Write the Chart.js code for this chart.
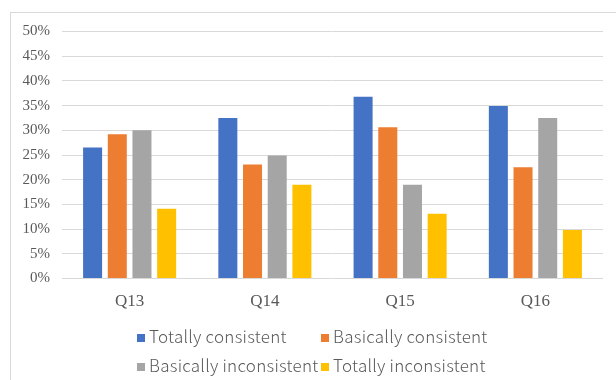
<!DOCTYPE html>
<html>
<head>
<meta charset="utf-8">
<script src="https://cdn.jsdelivr.net/npm/chart.js@4"></script>
<style>
  html, body { margin: 0; padding: 0; background: #fff; }
  body { width: 616px; height: 380px; position: relative; overflow: hidden; }
  #frame { position: absolute; left: 10px; top: 12px; width: 620px; height: 380px;
           border-left: 1px solid #d9d9d9; border-top: 1px solid #d9d9d9; box-sizing: border-box; }
  #wrap { position: absolute; left: 0; top: 0; width: 616px; height: 380px; }
  .leg { position: absolute; font-family: "Noto Sans CJK SC", "Noto Sans", sans-serif; font-size: 17px;
         font-weight: 300; color: #595959; white-space: nowrap; line-height: 20px; letter-spacing: 0.25px; }
  .leg .sw { position: absolute; width: 8px; height: 8px; left: 0; top: 8px; }
  .leg .tx { position: absolute; left: 12px; top: 0; }
</style>
</head>
<body>
<div id="frame"></div>
<div id="wrap"><canvas id="c" width="616" height="380"></canvas></div>
<div id="legend"></div>
<script>
const categories = ["Q13", "Q14", "Q15", "Q16"];
const seriesNames = ["Totally consistent", "Basically consistent", "Basically inconsistent", "Totally inconsistent"];
const totallyConsistent = [26.5, 32.5, 36.8, 34.9];
const basicallyConsistent = [29.2, 23.1, 30.6, 22.5];
const basicallyInconsistent = [30.0, 24.9, 19.0, 32.5];
const totallyInconsistent = [14.1, 19.0, 13.1, 9.8];
const yTickValues = [0, 5, 10, 15, 20, 25, 30, 35, 40, 45, 50];
const colors = ["#4472C4", "#ED7D31", "#A5A5A5", "#FFC000"];

const seriesValues = [totallyConsistent, basicallyConsistent, basicallyInconsistent, totallyInconsistent];

new Chart(document.getElementById("c"), {
  type: "bar",
  data: {
    labels: categories,
    datasets: seriesValues.map((vals, i) => ({
      label: seriesNames[i],
      data: vals,
      backgroundColor: colors[i],
      borderWidth: 0,
      categoryPercentage: 0.73,
      barPercentage: 0.77
    }))
  },
  options: {
    responsive: false,
    animation: false,
    devicePixelRatio: 1,
    layout: { padding: { left: 0, right: 13, top: 31.5, bottom: 0 } },
    plugins: { legend: { display: false }, tooltip: { enabled: false } },
    scales: {
      x: {
        grid: { display: false, drawTicks: false },
        border: { display: false },
        ticks: { color: "#595959", font: { family: "Liberation Serif", size: 17 }, padding: 13 },
        afterFit: (s) => { s.height = 101.5; }
      },
      y: {
        min: 0, max: 50,
        afterBuildTicks: (s) => { s.ticks = yTickValues.map(v => ({ value: v })); },
        grid: { color: "#d9d9d9", lineWidth: 1, drawTicks: false },
        border: { display: false },
        ticks: { color: "#595959", font: { family: "Liberation Serif", size: 15 }, padding: 12,
                 callback: (v) => v + "%" },
        afterFit: (s) => { s.width = 62; }
      }
    }
  }
});

// Legend (2 columns x 2 rows, like the reference)
const legendEl = document.getElementById("legend");
const colX = [137, 321];
const rowY = [326, 355];
seriesNames.forEach((name, i) => {
  const d = document.createElement("div");
  d.className = "leg";
  d.style.left = colX[i % 2] + "px";
  d.style.top = rowY[Math.floor(i / 2)] + "px";
  const sw = document.createElement("span");
  sw.className = "sw";
  sw.style.background = colors[i];
  const tx = document.createElement("span");
  tx.className = "tx";
  tx.textContent = name;
  d.appendChild(sw); d.appendChild(tx);
  legendEl.appendChild(d);
});
</script>
</body>
</html>
